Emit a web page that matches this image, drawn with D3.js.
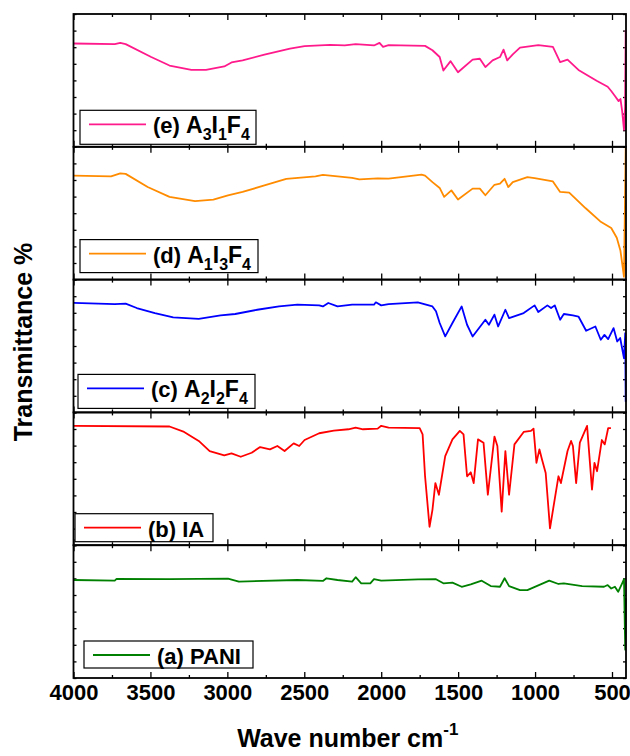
<!DOCTYPE html>
<html>
<head>
<meta charset="utf-8">
<script src="https://cdn.jsdelivr.net/npm/d3@7"></script>
<style>
  body { margin: 0; background: #fff; }
  text { font-family: "Liberation Sans", Arial, sans-serif; font-weight: bold; fill: #000; }
</style>
</head>
<body>
<div id="chart"></div>
<script>
// FTIR spectra (transmittance as % of panel height)
var xTicks = [4000, 3500, 3000, 2500, 2000, 1500, 1000, 500];

// (e) A3I1F4
var eWave = [4000, 3732, 3696, 3661, 3495, 3376, 3234, 3139, 3020, 2973, 2901, 2759, 2593, 2498, 2332, 2237, 2166, 2047, 2011, 1988, 1952, 1715, 1667, 1620, 1596, 1549, 1501, 1406, 1359, 1323, 1276, 1228, 1205, 1181, 1145, 1098, 979, 884, 837, 789, 718, 600, 528, 505, 481, 457, 445, 434, 422, 415, 411];
var eT = [77.8, 77.3, 78.3, 77.3, 67.6, 61.2, 57.9, 57.9, 60.5, 63.5, 65.1, 69.4, 74.0, 75.8, 76.8, 76.3, 77.3, 76.3, 78.3, 75.3, 76.5, 76.0, 72.7, 67.6, 57.4, 64.5, 56.1, 65.6, 66.3, 60.0, 65.1, 67.6, 73.2, 65.1, 69.6, 74.7, 76.5, 75.3, 63.8, 65.6, 57.9, 49.7, 45.2, 42.0, 38.3, 34.4, 36.0, 26.8, 12.8, 30.0, 88.0];

// (d) A1I3F4
var dWave = [4000, 3756, 3696, 3661, 3518, 3376, 3210, 3091, 2996, 2901, 2759, 2617, 2427, 2379, 2189, 2142, 2023, 1952, 1738, 1715, 1667, 1620, 1591, 1544, 1501, 1406, 1359, 1323, 1264, 1228, 1198, 1174, 1145, 1050, 1003, 884, 837, 778, 671, 576, 505, 469, 445, 422, 411];
var dT = [78.3, 77.8, 80.0, 79.6, 69.7, 62.3, 59.1, 60.3, 63.5, 66.0, 70.9, 75.9, 77.8, 78.8, 76.6, 75.5, 76.2, 76.0, 79.1, 78.3, 73.4, 69.0, 62.3, 67.2, 60.3, 68.5, 68.5, 63.5, 71.4, 72.2, 75.9, 69.7, 73.4, 77.1, 76.4, 73.9, 66.0, 65.5, 53.7, 43.8, 38.9, 31.5, 21.7, 2.0, 99.0];

// (c) A2I2F4
var cWave = [4000, 3732, 3661, 3589, 3471, 3352, 3186, 3044, 2949, 2806, 2664, 2545, 2403, 2379, 2344, 2284, 2189, 2047, 2035, 2000, 1952, 1762, 1667, 1644, 1620, 1584, 1537, 1477, 1442, 1406, 1323, 1300, 1264, 1240, 1193, 1169, 1074, 1003, 979, 920, 896, 872, 837, 813, 754, 718, 668, 608, 573, 549, 525, 490, 466, 447, 422, 414, 411];
var cT = [82.4, 81.6, 81.9, 78.6, 74.8, 71.5, 70.5, 73.0, 74.1, 77.3, 79.8, 81.1, 80.6, 79.8, 82.4, 79.8, 81.1, 81.1, 82.9, 80.6, 81.6, 82.9, 79.8, 76.1, 67.3, 57.2, 67.3, 79.8, 66.0, 57.2, 69.8, 66.0, 73.6, 64.7, 77.3, 71.0, 74.8, 80.6, 75.6, 80.6, 78.6, 80.6, 69.8, 74.1, 73.0, 72.2, 61.5, 64.7, 54.7, 58.4, 55.2, 63.5, 53.4, 56.0, 40.8, 59.7, 8.0];

// (b) IA
var bWave = [4000, 3376, 3281, 3186, 3115, 3020, 2973, 2913, 2842, 2787, 2723, 2675, 2628, 2569, 2533, 2498, 2403, 2308, 2213, 2166, 2118, 2023, 2000, 1952, 1750, 1731, 1715, 1686, 1667, 1648, 1625, 1584, 1537, 1489, 1465, 1442, 1418, 1399, 1371, 1335, 1307, 1264, 1245, 1217, 1193, 1169, 1134, 1074, 1027, 1010, 991, 972, 955, 931, 903, 848, 832, 789, 766, 754, 733, 709, 662, 630, 614, 597, 566, 547, 525, 507];
var bT = [89.9, 89.4, 85.3, 78.5, 70.9, 67.6, 69.1, 66.6, 69.6, 73.9, 72.2, 74.7, 70.9, 76.7, 74.7, 79.2, 84.3, 86.3, 87.3, 88.6, 87.3, 87.8, 89.9, 88.6, 88.1, 83.5, 51.9, 13.9, 26.6, 46.8, 38.0, 67.1, 79.7, 86.1, 83.5, 51.9, 54.9, 46.8, 79.7, 77.2, 38.0, 81.8, 74.7, 25.3, 70.9, 38.0, 75.9, 85.3, 86.1, 87.8, 62.0, 72.2, 64.6, 54.4, 12.7, 51.9, 46.8, 70.9, 78.5, 74.7, 46.8, 77.2, 89.9, 41.8, 62.0, 55.7, 79.2, 75.9, 88.1, 88.1];

// (a) PANI
var aWave = [4000, 3732, 3720, 3376, 2996, 2925, 2545, 2379, 2356, 2284, 2189, 2166, 2130, 2071, 2047, 2000, 1760, 1644, 1596, 1537, 1477, 1418, 1347, 1288, 1228, 1198, 1169, 1098, 1050, 908, 848, 813, 694, 552, 528, 505, 481, 460, 434, 422, 414, 411];
var aT = [73.8, 73.3, 74.6, 74.4, 74.9, 72.6, 73.8, 73.1, 75.1, 73.8, 72.6, 75.9, 71.3, 71.3, 74.4, 73.3, 74.2, 74.4, 71.3, 71.8, 68.7, 70.5, 73.3, 69.2, 68.7, 75.1, 69.2, 66.2, 66.2, 73.3, 70.8, 71.3, 69.2, 68.7, 70.0, 67.4, 68.7, 64.9, 71.3, 74.4, 21.3, 60.0];

// series, top panel first
var series = [
  { tag: "(e) ", parts: [["A", "3"], ["I", "1"], ["F", "4"]], color: "#ff1a8c", wave: eWave, t: eT },
  { tag: "(d) ", parts: [["A", "1"], ["I", "3"], ["F", "4"]], color: "#ff8c00", wave: dWave, t: dT },
  { tag: "(c) ", parts: [["A", "2"], ["I", "2"], ["F", "4"]], color: "#0000ff", wave: cWave, t: cT },
  { tag: "(b) IA", parts: [], color: "#ff0000", wave: bWave, t: bT },
  { tag: "(a) PANI", parts: [], color: "#008000", wave: aWave, t: aT }
];

// legend box layout per panel: left, width, height, gap to panel bottom
var legendBox = [
  { x: 80, w: 176, h: 34, gap: 2.5 },
  { x: 80, w: 178, h: 33, gap: 7 },
  { x: 78, w: 177, h: 34, gap: 4 },
  { x: 75, w: 138, h: 28, gap: 3.5 },
  { x: 84, w: 169, h: 27, gap: 10 }
];

var svgWidth = 630;
var svgHeight = 756;
var margin = { top: 14, right: 4, bottom: 78, left: 73.5 };
var width = svgWidth - margin.left - margin.right;
var height = svgHeight - margin.top - margin.bottom;
var panelH = height / series.length;

var svg = d3.select("#chart")
  .append("svg")
  .attr("width", svgWidth)
  .attr("height", svgHeight);

var chartGroup = svg.append("g")
  .attr("transform", `translate(${margin.left}, ${margin.top})`);

var xScale = d3.scaleLinear()
  .domain([4000, 409])
  .range([0, width]);

var minorX = d3.range(3750, 400, -500);
var yTickVals = d3.range(0, 100.1, 12.5);

series.forEach(function(s, i) {
  var yScale = d3.scaleLinear().domain([0, 100]).range([panelH, 0]);
  var panel = chartGroup.append("g")
    .attr("transform", `translate(0, ${i * panelH})`);

  svg.append("clipPath").attr("id", "clip" + i)
    .append("rect").attr("y", -1).attr("width", width + 1).attr("height", panelH + 2);

  var isLast = i === series.length - 1;

  // bottom and top ticks (inward)
  var bottomMajor = panel.append("g")
    .attr("transform", `translate(0, ${panelH})`)
    .call(d3.axisBottom(xScale).tickValues(xTicks).tickSizeInner(-6).tickSizeOuter(0)
      .tickPadding(isLast ? 6 : 0).tickFormat(isLast ? d3.format("d") : ""));
  panel.append("g")
    .attr("transform", `translate(0, ${panelH})`)
    .call(d3.axisBottom(xScale).tickValues(minorX).tickSizeInner(-3).tickSizeOuter(0).tickFormat(""));
  panel.append("g")
    .call(d3.axisTop(xScale).tickValues(xTicks).tickSizeInner(-6).tickSizeOuter(0).tickFormat(""));
  panel.append("g")
    .call(d3.axisTop(xScale).tickValues(minorX).tickSizeInner(-3).tickSizeOuter(0).tickFormat(""));

  // left and right ticks (inward)
  panel.append("g")
    .call(d3.axisLeft(yScale).tickValues(yTickVals).tickSizeInner(-3).tickSizeOuter(0).tickFormat(""));
  panel.append("g")
    .attr("transform", `translate(${width}, 0)`)
    .call(d3.axisRight(yScale).tickValues(yTickVals).tickSizeInner(-3).tickSizeOuter(0).tickFormat(""));

  panel.selectAll(".domain").remove();
  panel.selectAll(".tick line").attr("stroke", "#000").attr("stroke-width", 1.3);

  bottomMajor.selectAll("text")
    .attr("font-size", "22px")
    .attr("font-family", "'Liberation Sans', Arial, sans-serif")
    .attr("font-weight", "bold")
    .attr("fill", "#000");

  // spectrum
  var pts = s.wave.map(function(w, k) { return [w, s.t[k]]; });
  var line = d3.line()
    .x(d => xScale(d[0]))
    .y(d => yScale(d[1]));

  panel.append("path")
    .datum(pts)
    .attr("clip-path", `url(#clip${i})`)
    .attr("fill", "none")
    .attr("stroke", s.color)
    .attr("stroke-width", 1.8)
    .attr("stroke-linejoin", "round")
    .attr("d", line);

  // frame
  panel.append("rect")
    .attr("width", width)
    .attr("height", panelH)
    .attr("fill", "none")
    .attr("stroke", "#000")
    .attr("stroke-width", 1.8);

  // legend
  var lb = legendBox[i];
  var lx = lb.x - margin.left;
  var ly = panelH - lb.gap - lb.h;
  var legend = panel.append("g").attr("transform", `translate(${lx}, ${ly})`);
  legend.append("rect")
    .attr("width", lb.w)
    .attr("height", lb.h)
    .attr("fill", "#fff")
    .attr("stroke", "#000")
    .attr("stroke-width", 1.2);
  legend.append("line")
    .attr("x1", 9).attr("x2", 66)
    .attr("y1", 14).attr("y2", 14)
    .attr("stroke", s.color)
    .attr("stroke-width", 1.8);
  var label = legend.append("text")
    .attr("x", 73)
    .attr("y", 23)
    .attr("font-size", "22px")
    .text(s.tag);
  s.parts.forEach(function(p, k) {
    label.append("tspan").attr("font-size", "23px").attr("dy", k > 0 ? -7 : 0).text(p[0]);
    label.append("tspan").attr("font-size", "16px").attr("dy", 7).text(p[1]);
  });
});

// axis titles
svg.append("text")
  .attr("x", margin.left + width / 2 - 2)
  .attr("y", 747)
  .attr("text-anchor", "middle")
  .attr("font-size", "25px")
  .text("Wave number cm")
  .append("tspan")
  .attr("font-size", "17px")
  .attr("dy", -12)
  .text("-1");

svg.append("text")
  .attr("transform", `translate(32, ${margin.top + height / 2 - 4}) rotate(-90)`)
  .attr("text-anchor", "middle")
  .attr("font-size", "25px")
  .text("Transmittance %");
</script>
</body>
</html>
